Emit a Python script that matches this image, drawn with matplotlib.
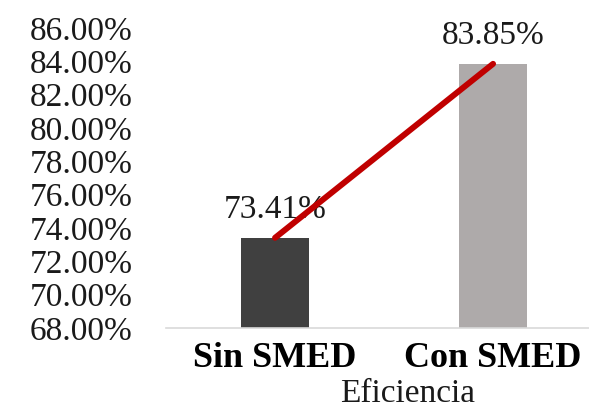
import matplotlib
matplotlib.use("Agg")
import matplotlib.pyplot as plt
from matplotlib.ticker import FuncFormatter

categories = ["Sin SMED", "Con SMED"]
values = [73.41, 83.85]
bar_colors = ["#404040", "#AEAAAA"]
yticks = [68, 70, 72, 74, 76, 78, 80, 82, 84, 86]
axis_label = "Eficiencia"

plt.rcParams["font.family"] = ["Liberation Serif", "DejaVu Serif"]

fig = plt.figure(figsize=(5.89, 4.12), dpi=100)
ax = fig.add_axes([166 / 589, 84 / 412, (589 - 166) / 589, 300 / 412])

x = list(range(len(categories)))
ax.bar(x, values, width=0.31, color=bar_colors, zorder=2)
ax.plot(x, values, color="#C00000", linewidth=4.3, solid_capstyle="round", zorder=3)

for xi, v in zip(x, values):
    ax.annotate(f"{v:.2f}%", (xi, v), xytext=(0, 20), textcoords="offset points",
                ha="center", va="center", fontsize=24, color="#1a1a1a", zorder=1)

ax.set_xlim(-0.5, 1.44)
ax.set_ylim(68, 86)
ax.set_yticks(yticks)
ax.yaxis.set_major_formatter(FuncFormatter(lambda v, p: f"{v:.2f}%"))
ax.set_xticks(x)
ax.set_xticklabels(categories, fontweight="bold", fontsize=26)
ax.tick_params(axis="y", length=0, labelsize=24, pad=24, labelcolor="#1a1a1a")
ax.tick_params(axis="x", length=0, pad=10)

for s in ["top", "right", "left"]:
    ax.spines[s].set_visible(False)
ax.spines["bottom"].set_color("#D9D9D9")
ax.spines["bottom"].set_linewidth(1.2)

fig.text(408 / 589, 3 / 412, axis_label, ha="center", va="bottom",
         fontsize=24, color="#1a1a1a")

fig.savefig("out.png", dpi=100)
